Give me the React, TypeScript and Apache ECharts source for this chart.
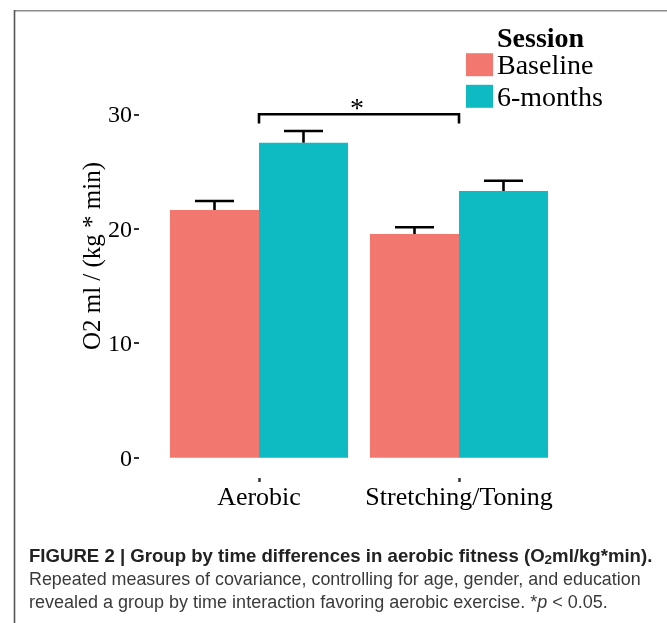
import React, { useEffect, useRef } from 'react';
import * as echarts from 'echarts';

const categories = ['Aerobic', 'Stretching/Toning'];
const seriesNames = ['Baseline', '6-months'];
const baselineMeans = [21.64, 19.54];
const sixMonthMeans = [27.52, 23.3];
const baselineUpper = [22.43, 20.13];
const sixMonthUpper = [28.54, 24.2];
const yAxisRange = [0, 30];
const yTickStep = 10;
const bracketSpan = [0, 1];
const bracketLevels = [30, 29.2];
const bracketLabel = '*';
const yTitle = 'O2 ml / (kg * min)';
const legendTitle = 'Session';

const SERIF = '"Liberation Serif", "Times New Roman", serif';
const SANS = '"Liberation Sans", Arial, Helvetica, sans-serif';
const PINK = '#F2786F';
const TEAL = '#0FBBC2';
const BAR_FRAC = 0.445;
const CAP_FRAC = 0.195;

export default function App() {
  const ref = useRef<HTMLDivElement>(null);

  useEffect(() => {
    if (!ref.current) return;
    const chart = echarts.init(ref.current, undefined, { renderer: 'svg' });

    const errData: number[][] = [];
    categories.forEach((_, i) => {
      errData.push([i, baselineUpper[i], baselineMeans[i], 0]);
      errData.push([i, sixMonthUpper[i], sixMonthMeans[i], 1]);
    });

    const option: any = {
      animation: false,
      grid: { left: 159, right: 108, top: 114.3, bottom: 165.3, containLabel: false },
      legend: {
        data: seriesNames,
        orient: 'vertical',
        left: 466,
        top: 50.7,
        padding: 0,
        icon: 'rect',
        itemWidth: 27,
        itemHeight: 23,
        itemGap: 3.6,
        selectedMode: false,
        textStyle: { fontFamily: SERIF, fontSize: 28, color: '#000', lineHeight: 23, padding: [0, 0, 0, -1] },
      },
      xAxis: {
        type: 'category',
        data: categories,
        offset: 20.3,
        axisLine: { show: false, onZero: false },
        axisTick: { show: true, interval: 0, alignWithLabel: true, length: 4, lineStyle: { color: '#333', width: 2.5 } },
        axisLabel: { interval: 0, fontFamily: SERIF, fontSize: 26, lineHeight: 26, color: '#000', margin: 5 },
        splitLine: { show: false },
      },
      yAxis: {
        type: 'value',
        min: yAxisRange[0],
        max: yAxisRange[1],
        interval: yTickStep,
        offset: 20,
        axisLine: { show: false, onZero: false },
        axisTick: { show: true, length: 5, lineStyle: { color: '#333', width: 2 } },
        axisLabel: { fontFamily: SERIF, fontSize: 24, color: '#000', margin: 7 },
        splitLine: { show: false },
      },
      series: [
        {
          name: seriesNames[0],
          type: 'bar',
          data: baselineMeans,
          barWidth: BAR_FRAC * 100 + '%',
          barGap: '0%',
          itemStyle: { color: PINK },
          z: 3,
        },
        {
          name: seriesNames[1],
          type: 'bar',
          data: sixMonthMeans,
          barWidth: BAR_FRAC * 100 + '%',
          barGap: '0%',
          itemStyle: { color: TEAL },
          z: 3,
        },
        {
          type: 'custom',
          z: 4,
          silent: true,
          encode: { x: 0, y: 1 },
          data: errData,
          renderItem: (params: any, api: any) => {
            const cat = api.value(0);
            const upper = api.value(1);
            const mean = api.value(2);
            const s = api.value(3);
            const band = api.size([1, 0])[0];
            const base = api.coord([cat, mean]);
            const x = base[0] + (s === 0 ? -1 : 1) * band * BAR_FRAC / 2;
            const top = api.coord([cat, upper])[1];
            const half = band * CAP_FRAC / 2;
            const style = { stroke: '#000', lineWidth: 2.6, fill: 'none' };
            return {
              type: 'group',
              children: [
                { type: 'line', shape: { x1: x, y1: base[1], x2: x, y2: top }, style },
                { type: 'line', shape: { x1: x - half, y1: top, x2: x + half, y2: top }, style },
              ],
            };
          },
        },
        {
          type: 'custom',
          z: 5,
          silent: true,
          encode: { x: 0, y: 2 },
          data: [[bracketSpan[0], bracketSpan[1], bracketLevels[0], bracketLevels[1]]],
          renderItem: (params: any, api: any) => {
            const p0 = api.coord([api.value(0), api.value(2)]);
            const p1 = api.coord([api.value(1), api.value(2)]);
            const dropY = api.coord([api.value(0), api.value(3)])[1];
            return {
              type: 'group',
              children: [
                {
                  type: 'polyline',
                  shape: { points: [[p0[0], dropY], [p0[0], p0[1]], [p1[0], p1[1]], [p1[0], dropY]] },
                  style: { stroke: '#000', lineWidth: 2.6, fill: 'none' },
                },
                {
                  type: 'text',
                  x: (p0[0] + p1[0]) / 2 - 2,
                  y: p0[1] - 7,
                  style: {
                    text: bracketLabel,
                    font: '28px ' + SERIF,
                    fill: '#000',
                    align: 'center',
                    verticalAlign: 'middle',
                  },
                },
              ],
            };
          },
        },
      ],
      graphic: [
        { type: 'line', shape: { x1: 14, y1: 10.8, x2: 667, y2: 10.8 }, style: { stroke: '#8c8c8c', lineWidth: 1.6 } },
        { type: 'line', shape: { x1: 14.5, y1: 10, x2: 14.5, y2: 623 }, style: { stroke: '#555', lineWidth: 1.6 } },
        {
          type: 'text',
          x: 91,
          y: 256,
          rotation: Math.PI / 2,
          style: { text: yTitle, font: '25px ' + SERIF, fill: '#000', align: 'center', verticalAlign: 'middle' },
        },
        {
          type: 'text',
          x: 497,
          y: 37,
          style: {
            text: legendTitle,
            font: 'bold 28px ' + SERIF,
            lineHeight: 24,
            fill: '#000',
            align: 'left',
            verticalAlign: 'middle',
          },
        },
        {
          type: 'text',
          x: 29,
          y: 555.5,
          style: {
            text: '{b|FIGURE 2 | Group by time differences in aerobic fitness (O}{s|2}{b|ml/kg*min).}',
            align: 'left',
            verticalAlign: 'middle',
            rich: {
              b: { fontFamily: SANS, fontWeight: 'bold', fontSize: 18.6, fill: '#222', color: '#222', lineHeight: 22 },
              s: { fontFamily: SANS, fontWeight: 'bold', fontSize: 13.5, fill: '#222', color: '#222', lineHeight: 10, verticalAlign: 'bottom' },
            },
          },
        },
        {
          type: 'text',
          x: 29,
          y: 578.8,
          style: {
            text: 'Repeated measures of covariance, controlling for age, gender, and education',
            font: '17.9px ' + SANS,
            fill: '#3a3a3a',
            align: 'left',
            verticalAlign: 'middle',
          },
        },
        {
          type: 'text',
          x: 29,
          y: 601.5,
          style: {
            text: '{r|revealed a group by time interaction favoring aerobic exercise. *}{i|p}{r| < 0.05.}',
            align: 'left',
            verticalAlign: 'middle',
            rich: {
              r: { fontFamily: SANS, fontSize: 18, fill: '#3a3a3a', color: '#3a3a3a' },
              i: { fontFamily: SANS, fontSize: 18, fontStyle: 'italic', fill: '#3a3a3a', color: '#3a3a3a' },
            },
          },
        },
      ],
    };

    chart.setOption(option);
    return () => chart.dispose();
  }, []);

  return <div ref={ref} style={{ position: 'fixed', left: 0, top: 0, width: 667, height: 623 }} />;
}
